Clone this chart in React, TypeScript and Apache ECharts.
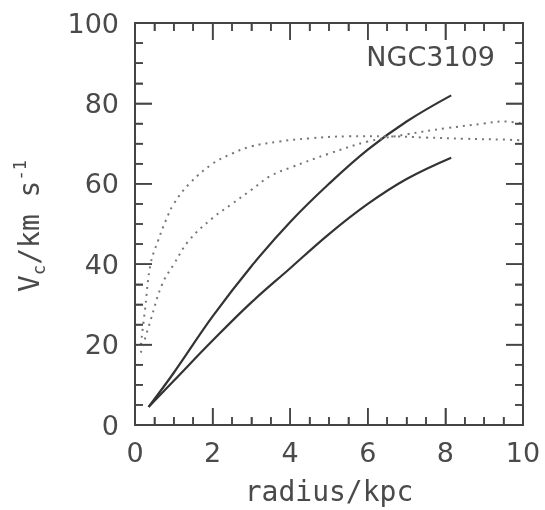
import React, { useEffect, useRef } from "react";
import * as echarts from "echarts";

// radius (kpc) and circular velocity (km/s)
const solidUpperR = [0.35, 1, 2, 3, 4, 5, 6, 7, 8.15];
const solidUpperV = [4.5, 13, 27, 39.5, 50.5, 60, 68.5, 75.5, 82];

const solidLowerR = [0.35, 1, 2, 3, 4, 5, 6, 7, 8.15];
const solidLowerV = [4.5, 11, 21, 30.5, 39, 47.5, 55, 61.2, 66.5];

const dotUpperR = [0.15, 0.25, 0.4, 0.6, 0.8, 1.0, 1.4, 2.0, 2.5, 3.0, 3.7, 4.5, 5.5, 6.5, 7.5, 8.5, 9.5, 10];
const dotUpperV = [20, 28, 40, 46, 51, 55, 60, 65, 67.5, 69.3, 70.5, 71.3, 71.8, 71.8, 71.5, 71.2, 71, 70.8];

const dotLowerR = [0.15, 0.4, 0.7, 1.0, 1.4, 2.0, 2.5, 3.0, 3.5, 4.0, 5.0, 6.0, 7.0, 8.0, 9.0, 9.5, 10];
const dotLowerV = [18, 26, 35, 40, 46, 51.5, 55, 58.5, 62, 64, 67.5, 70.5, 72.3, 73.8, 75, 75.5, 75];

// tick positions (mirrored on all four sides of the frame)
const xMajorTicks = [0, 2, 4, 6, 8, 10];
const xMinorTicks = [0.5, 1, 1.5, 2.5, 3, 3.5, 4.5, 5, 5.5, 6.5, 7, 7.5, 8.5, 9, 9.5];
const yMajorTicks = [0, 20, 40, 60, 80, 100];
const yMinorTicks = [5, 10, 15, 25, 30, 35, 45, 50, 55, 65, 70, 75, 85, 90, 95];

const galaxyName = "NGC3109";
const xName = "radius/kpc";
const yName = "{m|V}{s|c}{m|/km s}{p|-1}";

const zip = (a: number[], b: number[]) => a.map((v, i) => [v, b[i]]);

const frame = "#444";
const textColor = "#4a4a4a";

function axisBase() {
  return {
    type: "value" as const,
    axisLine: { show: true, onZero: false, lineStyle: { color: frame, width: 2 } },
    axisTick: { show: true, inside: true, length: 17, lineStyle: { color: frame, width: 1.5 } },
    minorTick: { show: true, splitNumber: 4, length: 8, lineStyle: { color: frame, width: 1.5 } },
    splitLine: { show: false },
    minorSplitLine: { show: false },
  };
}

function renderTicks(_params: any, api: any) {
  const children: any[] = [];
  const st = { stroke: frame, lineWidth: 1.5, fill: null };
  const add = (x1: number, y1: number, x2: number, y2: number) =>
    children.push({ type: "line", shape: { x1, y1, x2, y2 }, style: st });
  const xs = (vals: number[], len: number) =>
    vals.forEach((v) => {
      const b = api.coord([v, 0]);
      const t = api.coord([v, 100]);
      add(b[0], b[1], b[0], b[1] - len);
      add(t[0], t[1], t[0], t[1] + len);
    });
  const ys = (vals: number[], len: number) =>
    vals.forEach((v) => {
      const l = api.coord([0, v]);
      const r = api.coord([10, v]);
      add(l[0], l[1], l[0] + len, l[1]);
      add(r[0], r[1], r[0] - len, r[1]);
    });
  xs(xMajorTicks, 17);
  xs(xMinorTicks, 8);
  ys(yMajorTicks, 17);
  ys(yMinorTicks, 8);
  return { type: "group", children };
}

export default function App() {
  const ref = useRef<HTMLDivElement>(null);
  useEffect(() => {
    if (!ref.current) return;
    const chart = echarts.init(ref.current, null, { renderer: "svg" });
    chart.setOption({
      animation: false,
      title: {
        text: galaxyName,
        right: 45,
        top: 38,
        textStyle: { fontFamily: "DejaVu Sans", fontSize: 27, fontWeight: "normal", color: textColor },
      },
      graphic: [
        {
          type: "text",
          x: 29,
          y: 226,
          rotation: Math.PI / 2,
          style: {
            text: yName,
            align: "center",
            verticalAlign: "middle",
            fill: textColor,
            rich: {
              m: { fontFamily: "DejaVu Sans Mono", fontSize: 28, lineHeight: 36, fill: textColor, verticalAlign: "middle" },
              s: { fontFamily: "DejaVu Sans Mono", fontSize: 17, lineHeight: 36, fill: textColor, verticalAlign: "bottom" },
              p: { fontFamily: "DejaVu Sans Mono", fontSize: 17, lineHeight: 36, fill: textColor, verticalAlign: "top" },
            },
          },
        },
      ],
      grid: { left: 135, right: 22, top: 23, bottom: 84 },
      xAxis: [
        {
          ...axisBase(),
          position: "bottom",
          min: 0,
          max: 10,
          interval: 2,
          axisLabel: { fontFamily: "DejaVu Sans", fontSize: 27, color: textColor, margin: 14 },
          name: xName,
          nameLocation: "middle",
          nameGap: 52,
          nameTextStyle: { fontFamily: "DejaVu Sans Mono", fontSize: 28, color: textColor },
        },
        {
          ...axisBase(),
          position: "top",
          min: 0,
          max: 10,
          interval: 2,
          axisLabel: { show: false },
        },
      ],
      yAxis: [
        {
          ...axisBase(),
          position: "left",
          min: 0,
          max: 100,
          interval: 20,
          axisLabel: { fontFamily: "DejaVu Sans", fontSize: 27, color: textColor, margin: 16 },
        },
        {
          ...axisBase(),
          position: "right",
          min: 0,
          max: 100,
          interval: 20,
          axisLabel: { show: false },
        },
      ],
      series: [
        {
          type: "custom",
          xAxisIndex: 0,
          yAxisIndex: 0,
          silent: true,
          clip: false,
          data: [[0, 0]],
          renderItem: renderTicks,
          z: 5,
        },
        {
          type: "line",
          data: zip(solidUpperR, solidUpperV),
          smooth: 0.4,
          showSymbol: false,
          lineStyle: { color: "#333", width: 2.2 },
        },
        {
          type: "line",
          data: zip(solidLowerR, solidLowerV),
          smooth: 0.4,
          showSymbol: false,
          lineStyle: { color: "#333", width: 2.2 },
        },
        {
          type: "line",
          data: zip(dotUpperR, dotUpperV),
          smooth: 0.4,
          showSymbol: false,
          lineStyle: { color: "#777", width: 2, type: [2, 5] },
        },
        {
          type: "line",
          data: zip(dotLowerR, dotLowerV),
          smooth: 0.4,
          showSymbol: false,
          lineStyle: { color: "#777", width: 2, type: [2, 5] },
        },
      ],
    });
    return () => chart.dispose();
  }, []);
  return <div ref={ref} style={{ position: "fixed", left: 0, top: 0, width: 545, height: 510 }} />;
}
